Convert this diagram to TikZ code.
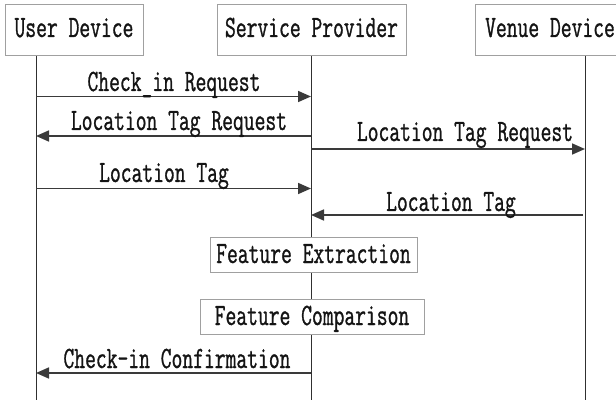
\documentclass[tikz,border=0pt]{standalone}
\usepackage{fontspec}
\newfontfamily\seqfont{Latin Modern Mono}[FakeStretch=0.677,FakeBold=0.9]
\usetikzlibrary{arrows.meta}
\definecolor{boxgray}{HTML}{A0A0A0}
\definecolor{linegray}{HTML}{303030}
\definecolor{msggray}{HTML}{3A3A3A}
\begin{document}
\begin{tikzpicture}[x=1pt,y=-1pt,
  lbl/.style={font=\seqfont\fontsize{31}{33}\selectfont, text=black!92, inner sep=0pt},
  headbox/.style={lbl, draw=boxgray, line width=1pt, fill=white,
    minimum height=51pt, text height=17.5pt, text depth=4.5pt},
  procbox/.style={lbl, draw=boxgray, line width=1pt, fill=white,
    minimum height=35pt, text height=17.5pt, text depth=0.5pt},
  lifeline/.style={draw=linegray, line width=1pt},
  msg/.style={draw=msggray, line width=1.7pt,
    -{Triangle[length=13pt,width=11pt]}},
  msglbl/.style={lbl, anchor=base}]
\useasboundingbox (0,0) rectangle (616,401);

% participant heads
\node[headbox, minimum width=138pt] (ud) at (74,30.5) {User Device};
\node[headbox, minimum width=189pt] (sp) at (311.5,30.5) {Service Provider};
\node[headbox, minimum width=150pt] (vd) at (550,30.5) {Venue Device};

% lifelines
\coordinate (udtop) at (36,56);   \coordinate (udbot) at (36,400);
\coordinate (sptop) at (311,56);  \coordinate (spbot) at (311,400);
\coordinate (vdtop) at (585,56);  \coordinate (vdbot) at (585,400);
\draw[lifeline] (udtop) -- (udbot);
\draw[lifeline] (sptop) -- (spbot);
\draw[lifeline] (vdtop) -- (vdbot);

% message end points on the lifelines
\coordinate (m1a) at (36,96.5);  \coordinate (m1b) at (311,96.5);
\coordinate (m2a) at (311,136);  \coordinate (m2b) at (36,136);
\coordinate (m3a) at (311,149);  \coordinate (m3b) at (585,149);
\coordinate (m4a) at (36,188.5); \coordinate (m4b) at (311,188.5);
\coordinate (m5a) at (583,215);  \coordinate (m5b) at (311,215);
\coordinate (m6a) at (311,373);  \coordinate (m6b) at (36,373);

% messages
\draw[msg] (m1a) -- (m1b);
\draw[msg] (m2a) -- (m2b);
\draw[msg] (m3a) -- (m3b);
\draw[msg] (m4a) -- (m4b);
\draw[msg] (m5a) -- (m5b);
\draw[msg] (m6a) -- (m6b);

% message labels
\node[msglbl] (l1) at (174,91)  {Check\_in Request};
\node[msglbl] (l2) at (179,130) {Location Tag Request};
\node[msglbl] (l3) at (465,141) {Location Tag Request};
\node[msglbl] (l4) at (164,182) {Location Tag};
\node[msglbl] (l5) at (451,211) {Location Tag};
\node[msglbl] (l6) at (177,368) {Check-in Confirmation};

% processing steps on the provider
\node[procbox, minimum width=207pt] (fe) at (313.5,254.5) {Feature Extraction};
\node[procbox, minimum width=224pt] (fc) at (312,316.5) {Feature Comparison};
\end{tikzpicture}
\end{document}
